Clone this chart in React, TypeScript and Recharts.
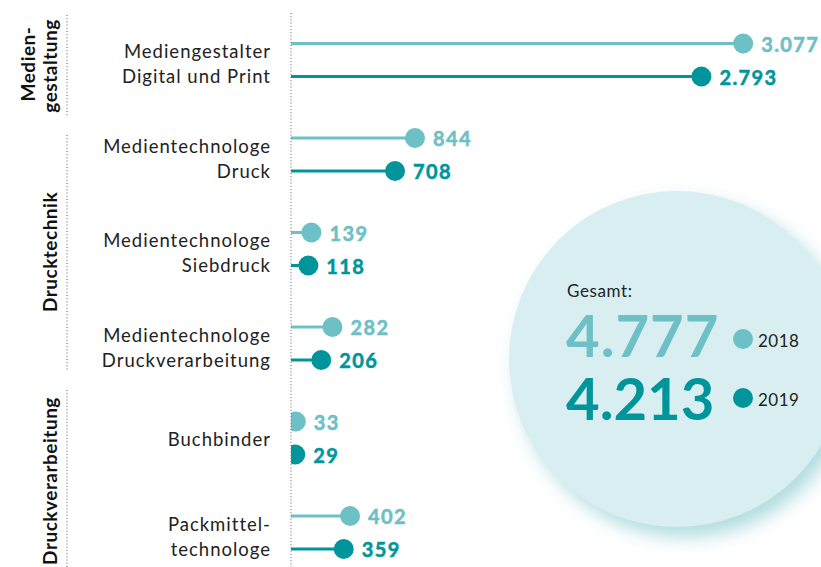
import { BarChart, Bar, XAxis, YAxis, LabelList } from 'recharts';

// Auszubildende je Beruf, 2018 vs. 2019
const categoryLines = [
  ['Mediengestalter', 'Digital und Print'],
  ['Medientechnologe', 'Druck'],
  ['Medientechnologe', 'Siebdruck'],
  ['Medientechnologe', 'Druckverarbeitung'],
  ['Buchbinder'],
  ['Packmittel-', 'technologe'],
];
const values2018 = [3077, 844, 139, 282, 33, 402];
const values2019 = [2793, 708, 118, 206, 29, 359];
const years = ['2018', '2019'];

const groupLabels = [['Medien-', 'gestaltung'], ['Drucktechnik'], ['Druckverarbeitung']];

const LIGHT = '#6cc0c6';
const DARK = '#00959b';
const FONT = 'Lato, sans-serif';

const data = categoryLines.map((lines, i) => ({
  name: lines.join(' '),
  lines,
  v2018: values2018[i],
  v2019: values2019[i],
}));

const total2018 = values2018.reduce((a, b) => a + b, 0);
const total2019 = values2019.reduce((a, b) => a + b, 0);

const fmt = (v: number) => String(v).replace(/\B(?=(\d{3})+(?!\d))/g, '.');

const CategoryTick = (props: any) => {
  const { y, payload, index } = props;
  const lines = categoryLines[index] || [payload.value];
  const offsets = lines.length === 1 ? [1] : [-9, 16];
  return (
    <text textAnchor="end" fontFamily={FONT} fontSize={18.5} letterSpacing={1} fill="#222">
      {lines.map((l: string, i: number) => (
        <tspan key={i} x={271} y={y + offsets[i]} dominantBaseline="central">
          {l}
        </tspan>
      ))}
    </text>
  );
};

const lollipop = (color: string, key: string) => (props: any) => {
  const { x, y, width, height, index } = props;
  const cy = y + height / 2;
  const id = `clip-${key}-${index}`;
  return (
    <g>
      <defs>
        <clipPath id={id}>
          <rect x={x} y={cy - 15} width={1000} height={30} />
        </clipPath>
      </defs>
      <g clipPath={`url(#${id})`}>
        <rect x={x} y={y} width={width} height={height} fill={color} />
        <circle cx={x + width} cy={cy} r={10} fill={color} />
      </g>
    </g>
  );
};

const valueLabel = (color: string) => (props: any) => {
  const { x, y, width, height, value } = props;
  return (
    <text
      x={x + width + 18}
      y={y + height / 2}
      dominantBaseline="central"
      fontFamily={FONT}
      fontWeight={700}
      fontSize={20}
      letterSpacing={1.4}
      stroke={color}
      strokeWidth={0.5}
      fill={color}
    >
      {fmt(value)}
    </text>
  );
};

function Background() {
  return (
    <svg width={821} height={567} style={{ position: 'absolute', left: 0, top: 0 }}>
      <defs>
        <filter id="shadow" x="-20%" y="-20%" width="140%" height="140%">
          <feDropShadow dx={8} dy={10} stdDeviation={9} floodColor="#8fcdd2" floodOpacity={0.7} />
        </filter>
      </defs>
      <circle cx={677} cy={359} r={168} fill="#d9eef1" filter="url(#shadow)" />
      <text x={567} y={297} fontFamily={FONT} fontSize={17} letterSpacing={0.6} fill="#222">Gesamt:</text>
      <text x={566} y={357} fontFamily={FONT} fontWeight={700} fontSize={58} letterSpacing={1} fill={LIGHT}>
        {fmt(total2018)}
      </text>
      <text x={566} y={420} fontFamily={FONT} fontWeight={700} fontSize={58} fill={DARK}>
        {fmt(total2019)}
      </text>
      <circle cx={743} cy={339} r={10} fill={LIGHT} />
      <text x={758} y={347} fontFamily={FONT} fontSize={17} letterSpacing={0.5} fill="#222">{years[0]}</text>
      <circle cx={743} cy={398} r={10} fill={DARK} />
      <text x={758} y={406} fontFamily={FONT} fontSize={17} letterSpacing={0.5} fill="#222">{years[1]}</text>

      {/* Gruppen links */}
      <g stroke="#777" strokeWidth={1.2} strokeDasharray="1 2.2">
        <line x1={67} y1={15} x2={67} y2={117} />
        <line x1={67} y1={135} x2={67} y2={370} />
        <line x1={67} y1={390} x2={67} y2={567} />
      </g>
      <g fontFamily={FONT} fontWeight={700} fontSize={19} letterSpacing={0.5} fill="#111" textAnchor="middle">
        <text transform="translate(35,64) rotate(-90)">{groupLabels[0][0]}</text>
        <text transform="translate(57,66) rotate(-90)">{groupLabels[0][1]}</text>
        <text transform="translate(57,252) rotate(-90)">{groupLabels[1][0]}</text>
        <text transform="translate(57,481) rotate(-90)">{groupLabels[2][0]}</text>
      </g>
    </svg>
  );
}

export default function App() {
  return (
    <div style={{ position: 'absolute', left: 0, top: 0, width: 821, height: 567, overflow: 'hidden', background: '#fff' }}>
      <Background />
      <div style={{ position: 'absolute', left: 0, top: 0 }}>
        <BarChart
          width={821}
          height={580}
          data={data}
          layout="vertical"
          margin={{ top: 13, right: 1, bottom: 0, left: 0 }}
          barSize={3}
          barGap={30}
        >
          <XAxis type="number" domain={[0, 3600]} hide />
          <YAxis
            type="category"
            dataKey="name"
            width={291}
            tickLine={false}
            axisLine={{ stroke: '#777', strokeWidth: 1.2, strokeDasharray: '1 2.2' }}
            tick={<CategoryTick />}
            interval={0}
          />
          <Bar dataKey="v2018" name={years[0]} fill={LIGHT} shape={lollipop(LIGHT, 'a')} isAnimationActive={false}>
            <LabelList dataKey="v2018" content={valueLabel(LIGHT)} />
          </Bar>
          <Bar dataKey="v2019" name={years[1]} fill={DARK} shape={lollipop(DARK, 'b')} isAnimationActive={false}>
            <LabelList dataKey="v2019" content={valueLabel(DARK)} />
          </Bar>
        </BarChart>
      </div>
    </div>
  );
}
